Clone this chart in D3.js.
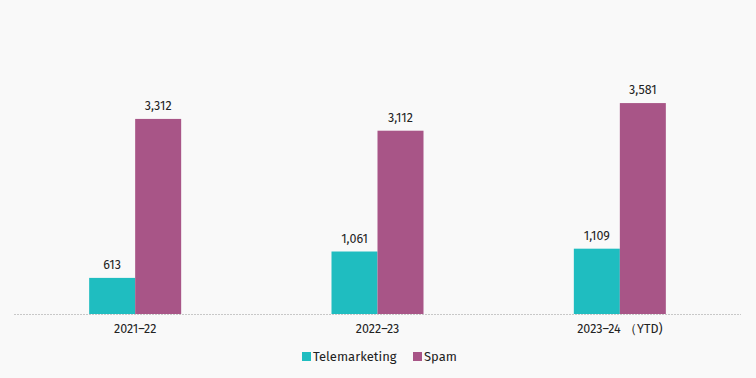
<!DOCTYPE html>
<html><head><meta charset="utf-8">
<script src="https://cdn.jsdelivr.net/npm/d3@7/dist/d3.min.js"></script>
<style>
html,body{margin:0;padding:0;background:#f9f9f9;}
svg{display:block;font-family:"Fira Sans","Open Sans","Noto Sans",sans-serif;}
</style></head>
<body><svg id="c" width="756" height="378"></svg>
<script>
const categories = ["2021–22", "2022–23", "2023–24 （YTD)"];
const seriesNames = ["Telemarketing", "Spam"];
const telemarketing = [613, 1061, 1109];
const spam = [3312, 3112, 3581];
const colors = ["#1fbdc0", "#a85587"];

const svg = d3.select("#c");
const W = 756, H = 378;
svg.append("rect").attr("width", W).attr("height", H).attr("fill", "#f9f9f9");

const x0 = d3.scaleBand().domain(categories).range([14, 741]).paddingInner(0).paddingOuter(0);
const x1 = d3.scaleBand().domain(seriesNames).range([0, 92]);
const y = d3.scaleLinear().domain([0, 4000]).range([314, 78.4]);

const data = categories.map((c, i) => ({cat: c, vals: [telemarketing[i], spam[i]]}));

const g = svg.append("g");
const groups = g.selectAll("g.grp").data(data).join("g")
  .attr("transform", d => `translate(${x0(d.cat) + x0.bandwidth()/2 - 46},0)`);

groups.selectAll("rect").data(d => d.vals.map((v, j) => ({v, s: seriesNames[j], j})))
  .join("rect")
  .attr("x", d => x1(d.s))
  .attr("width", x1.bandwidth())
  .attr("y", d => y(d.v))
  .attr("height", d => y(0) - y(d.v))
  .attr("fill", d => colors[d.j]);

groups.selectAll("text").data(d => d.vals.map((v, j) => ({v, s: seriesNames[j]})))
  .join("text")
  .attr("x", d => x1(d.s) + x1.bandwidth()/2)
  .attr("y", d => y(d.v) - 9)
  .attr("text-anchor", "middle")
  .attr("font-size", 12.5)
  .attr("fill", "#222")
  .text(d => d3.format(",")(d.v));

// axis
svg.append("line").attr("x1", 14).attr("x2", 741).attr("y1", 314.5).attr("y2", 314.5)
  .attr("stroke", "#c8c8c8").attr("stroke-width", 1).attr("stroke-dasharray", "2,1");

const xAxis = d3.axisBottom(x0).tickSize(0).tickPadding(10);
const ax = svg.append("g").attr("transform", "translate(0,314)").call(xAxis);
ax.select(".domain").remove();
ax.selectAll("text").attr("font-size", 12.5).attr("fill", "#222")
  .attr("font-family", '"Fira Sans","Open Sans","Noto Sans",sans-serif');

// legend
const legend = svg.append("g");
const items = [{n: seriesNames[0], x: 302}, {n: seriesNames[1], x: 413}];
items.forEach((it, i) => {
  legend.append("rect").attr("x", it.x).attr("y", 352).attr("width", 9).attr("height", 9).attr("fill", colors[i]);
  legend.append("text").attr("x", it.x + 11).attr("y", 361).attr("font-size", 13).attr("fill", "#222").text(it.n);
});
</script></body></html>
